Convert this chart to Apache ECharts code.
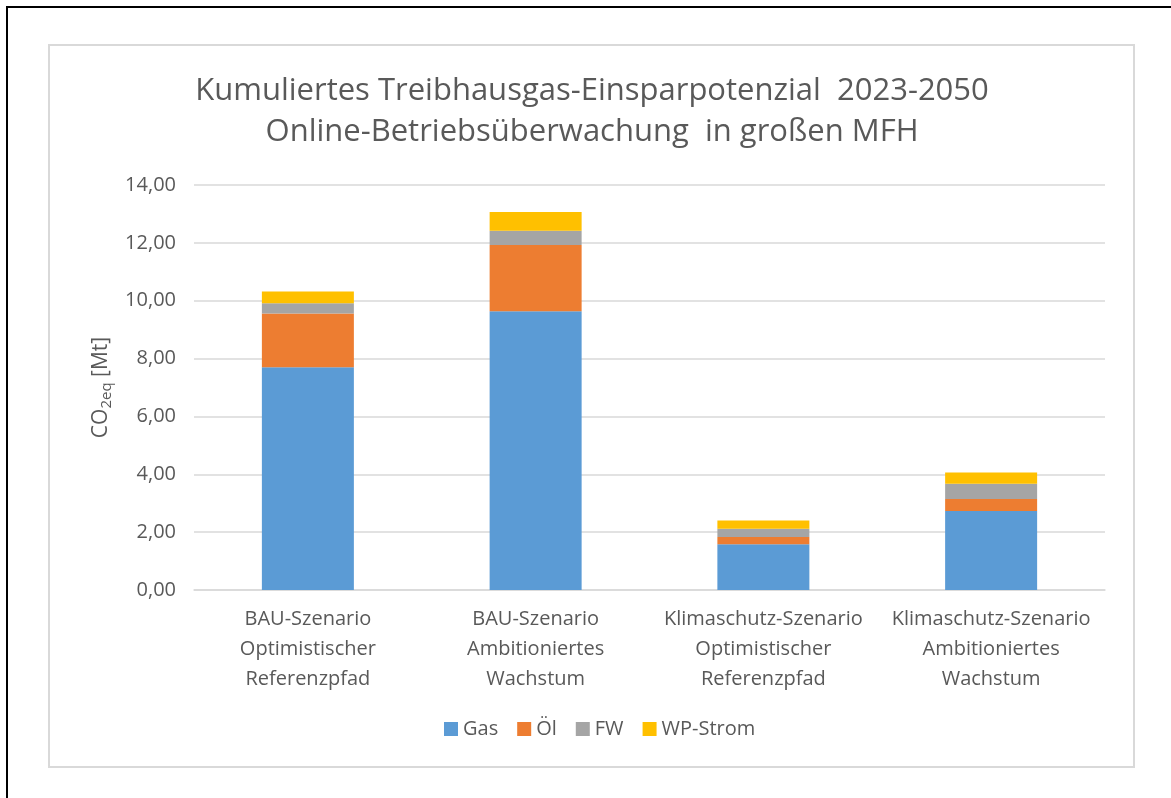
<!DOCTYPE html>
<html>
<head>
<meta charset="utf-8">
<script src="https://cdn.jsdelivr.net/npm/echarts@6/dist/echarts.min.js"></script>
<style>
    html, body { margin: 0; padding: 0; background: #fff; }
    #frame { position: absolute; left: 6px; top: 6px; width: 1171px; height: 798px; border-left: 2px solid #000; border-top: 2px solid #000; }
    #box { position: absolute; left: 48px; top: 44px; width: 1083px; height: 720px; border: 2px solid #d9d9d9; }
    #main { position: absolute; left: 0; top: 0; width: 1171px; height: 798px; }
</style>
</head>
<body>
<div id="frame"></div>
<div id="box"></div>
<div id="main"></div>
<script>
// Szenarien (x-Achse)
const categories = [
    'BAU-Szenario\nOptimistischer\nReferenzpfad',
    'BAU-Szenario\nAmbitioniertes\nWachstum',
    'Klimaschutz-Szenario\nOptimistischer\nReferenzpfad',
    'Klimaschutz-Szenario\nAmbitioniertes\nWachstum'
];
// Einsparung in Mt CO2eq je Energieträger
const gas = [7.70, 9.64, 1.58, 2.73];
const oel = [1.86, 2.29, 0.25, 0.42];
const fw = [0.35, 0.49, 0.29, 0.52];
const wpStrom = [0.41, 0.65, 0.28, 0.39];
const seriesNames = ['Gas', 'Öl', 'FW', 'WP-Strom'];
const colors = ['#5b9bd5', '#ed7d31', '#a5a5a5', '#ffc000'];

const font = '"Open Sans", sans-serif';
const grey = '#595959';

let myChart = echarts.init(document.getElementById('main'));

let option = {
    animation: false,
    color: colors,
    textStyle: { fontFamily: font },
    title: {
        text: 'Kumuliertes Treibhausgas-Einsparpotenzial  2023-2050\nOnline-Betriebsüberwachung  in großen MFH',
        left: 587,
        top: 66,
        textAlign: 'center',
        textStyle: { fontFamily: font, fontSize: 31, fontWeight: 'normal', color: grey, lineHeight: 41 }
    },
    legend: {
        bottom: 54,
        left: 439,
        itemWidth: 14,
        itemHeight: 14,
        itemGap: 19,
        itemStyle: { borderWidth: 0 },
        icon: 'rect',
        textStyle: { fontFamily: font, fontSize: 20, color: grey },
        data: seriesNames
    },
    grid: { left: 194, right: 66, top: 185, bottom: 208 },
    xAxis: {
        type: 'category',
        data: categories,
        axisLine: { lineStyle: { color: '#d9d9d9', width: 1.5 } },
        axisTick: { show: false },
        axisLabel: { interval: 0, fontFamily: font, fontSize: 20, color: grey, lineHeight: 30, margin: 14 }
    },
    yAxis: {
        type: 'value',
        min: 0,
        max: 14,
        interval: 2,
        name: '{n|CO}{s|2eq}{n| [Mt]}',
        nameLocation: 'middle',
        nameGap: 78,
        nameRotate: 90,
        nameTextStyle: {
            rich: {
                n: { fontFamily: font, fontSize: 21, color: grey },
                s: { fontFamily: font, fontSize: 15, color: grey, padding: [12, 0, 0, 0] }
            }
        },
        axisLine: { show: false },
        axisTick: { show: false },
        splitLine: { lineStyle: { color: '#d9d9d9', width: 1.5 } },
        axisLabel: {
            fontFamily: font, fontSize: 20, color: grey, margin: 18,
            formatter: v => v.toFixed(2).replace('.', ',')
        }
    },
    series: [gas, oel, fw, wpStrom].map((d, i) => ({
        name: seriesNames[i],
        type: 'bar',
        stack: 'total',
        barWidth: 92,
        data: d
    }))
};
myChart.setOption(option);
</script>
</body>
</html>
